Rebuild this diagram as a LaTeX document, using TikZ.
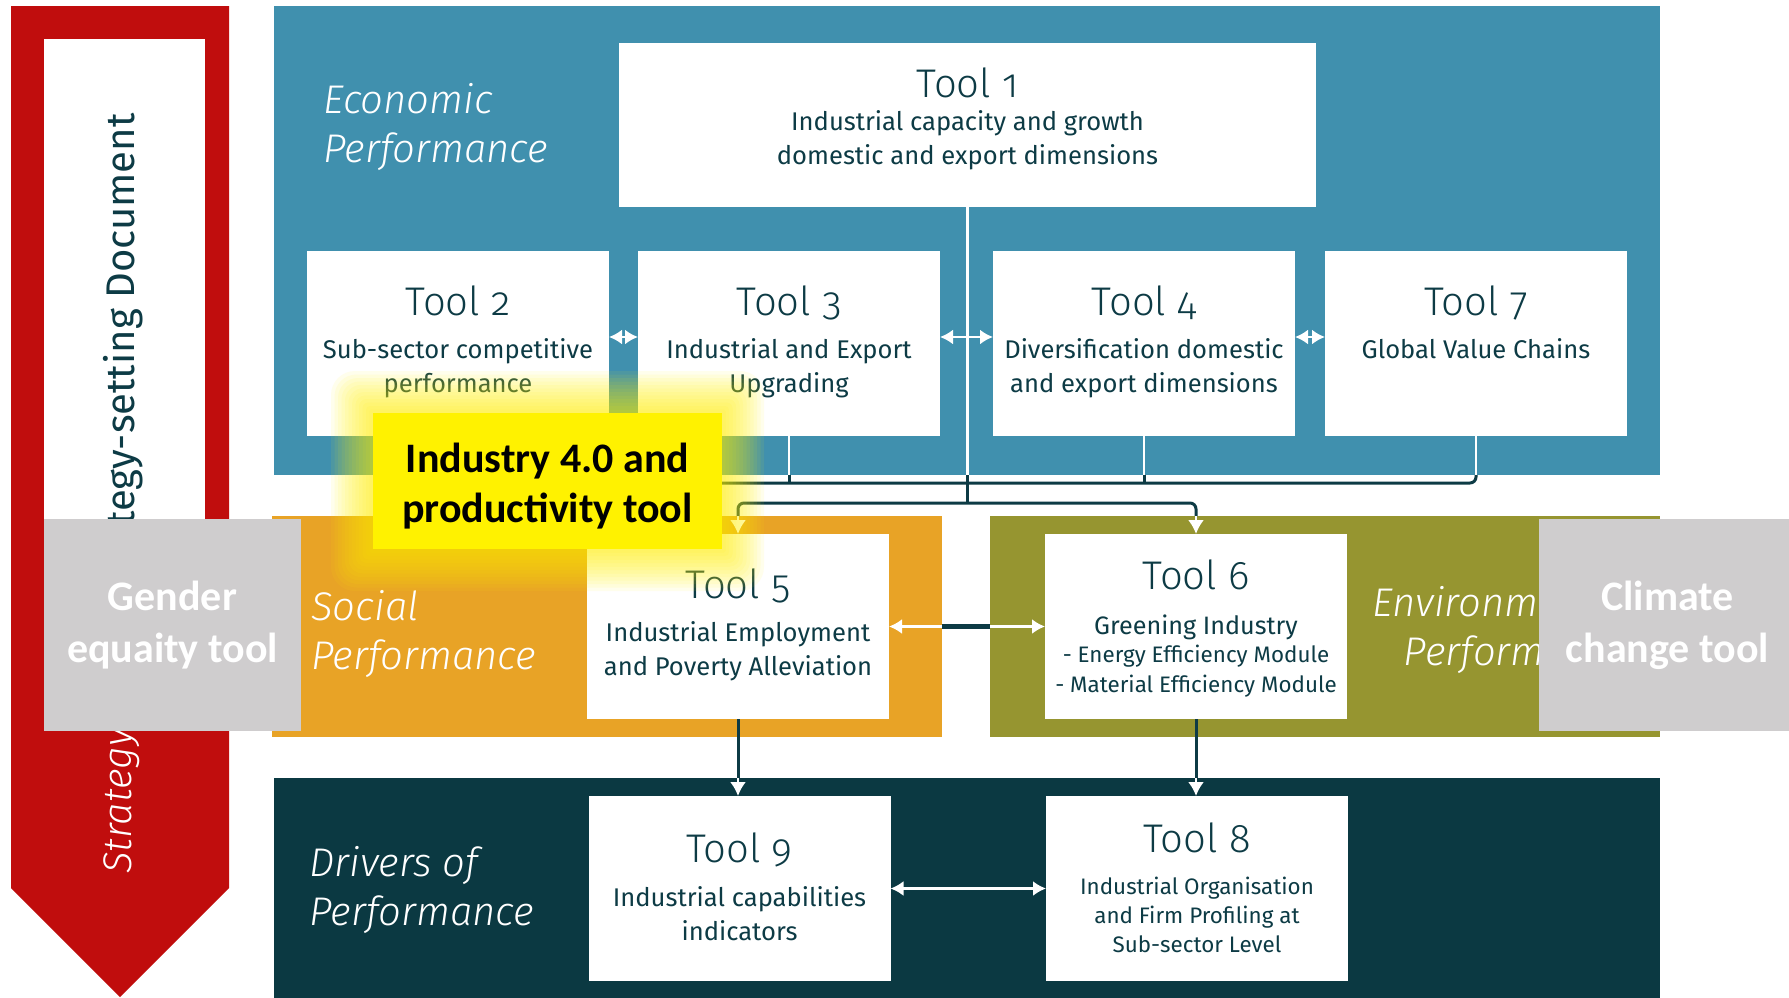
\documentclass[tikz,border=0pt]{standalone}
\usepackage{fontspec}
\setmainfont{Fira Sans}
\newfontfamily\lightfont{Fira Sans Light}[Numbers=OldStyle]
\newfontfamily\panelfont{Fira Sans Light Italic}
\newfontfamily\calfont{Carlito}
\usetikzlibrary{arrows.meta,positioning}

\definecolor{stratred}{HTML}{C00D0D}
\definecolor{econblue}{HTML}{4090AE}
\definecolor{socorange}{HTML}{E8A326}
\definecolor{envolive}{HTML}{969530}
\definecolor{drvteal}{HTML}{0B3942}
\definecolor{inktext}{HTML}{0D3B45}
\definecolor{toolgray}{HTML}{CFCDCE}

\newcommand{\ttl}{\lightfont\fontsize{20}{24}\selectfont}
\newcommand{\dsc}{\fontsize{12.8}{17}\selectfont}
\newcommand{\sml}{\fontsize{11.2}{14.5}\selectfont}

\tikzset{
  panel/.style={inner sep=0pt, outer sep=0pt},
  toolbox/.style={fill=white, inner sep=0pt, outer sep=0pt, minimum width=151pt, minimum height=92.5pt},
  tooltext/.style={anchor=north, align=center, inner sep=0pt, text=inktext, font=\dsc},
  plabel/.style={anchor=north west, align=left, inner sep=0pt, text=white, font=\panelfont\fontsize{20}{24.5}\selectfont},
  sidetool/.style={fill=toolgray, inner sep=0pt, align=center, text=white, font=\calfont\bfseries\fontsize{21}{26}\selectfont},
  wline/.style={white, line width=1.2pt},
  dline/.style={inktext, line width=1.5pt},
  wtip/.style={white, line width=1.2pt, -{Latex[length=7pt,width=8pt]}},
  wboth/.style={white, line width=1.2pt, {Latex[length=6.5pt,width=7.5pt]}-{Latex[length=6.5pt,width=7.5pt]}},
}

\begin{document}
\begin{tikzpicture}[x=0.5pt,y=-0.5pt]
\useasboundingbox (0,0) rectangle (1789,997);
\fill[white] (0,0) rectangle (1789,997);

% strategy arrow
\fill[stratred] (11,6) -- (229,6) -- (229,888) -- (120,997) -- (11,888) -- cycle;
\fill[white] (44,39) rectangle (205,668);
\node[rotate=90, anchor=east, inner sep=0pt, text=inktext, font=\fontsize{20}{24}\selectfont] (strat) at (123,113) {Strategy-setting Document};
\node[rotate=90, inner sep=0pt, text=white, font=\panelfont\fontsize{20}{24}\selectfont] (stratlow) at (122,801) {Strategy};

% panels
\node[panel, fill=econblue, minimum width=693pt, minimum height=234.5pt] (econ) at (967,240.5) {};
\node[panel, fill=socorange, minimum width=335pt, minimum height=110.5pt] (social) at (607,626.5) {};
\node[panel, fill=envolive, minimum width=335pt, minimum height=110.5pt] (envir) at (1325,626.5) {};
\node[panel, fill=drvteal, minimum width=693pt, minimum height=111pt] (drivers) at (967,889) {};

\node[plabel] (econlbl) at (323,83) {Economic\\Performance};
\node[plabel] (soclbl) at (311,590) {Social\\Performance};
\begin{scope}
  \clip (990,516) rectangle (1539,737);
  \node[plabel, align=right] (envlbl) at (1372,586) {Environmental\\Performance};
\end{scope}
\node[plabel] (drvlbl) at (309,846) {Drivers of\\Performance};

% tools
\node[toolbox, minimum width=348.5pt, minimum height=82pt] (t1) at (967.5,125) {};
\node[toolbox] (t2) at (458,343.5) {};
\node[toolbox] (t3) at (789,343.5) {};
\node[toolbox] (t4) at (1144,343.5) {};
\node[toolbox] (t7) at (1476,343.5) {};
\node[toolbox] (t5) at (738,626.5) {};
\node[toolbox] (t6) at (1196,626.5) {};
\node[toolbox] (t9) at (739.5,888.5) {};
\node[toolbox] (t8) at (1197,888.5) {};

\node[tooltext] (t1txt) at ([yshift=-12pt]t1.north) {{\ttl Tool 1}\\[-0.5pt]Industrial capacity and growth\\domestic and export dimensions};
\node[tooltext] (t2txt) at ([yshift=-17pt]t2.north) {{\ttl Tool 2}\\[4.5pt]Sub-sector competitive\\performance};
\node[tooltext] (t3txt) at ([yshift=-17pt]t3.north) {{\ttl Tool 3}\\[4.5pt]Industrial and Export\\Upgrading};
\node[tooltext] (t4txt) at ([yshift=-17pt]t4.north) {{\ttl Tool 4}\\[4.5pt]Diversification domestic\\and export dimensions};
\node[tooltext] (t7txt) at ([yshift=-17pt]t7.north) {{\ttl Tool 7}\\[4.5pt]Global Value Chains};
\node[tooltext] (t5txt) at ([yshift=-17pt]t5.north) {{\ttl Tool 5}\\[4.5pt]Industrial Employment\\and Poverty Alleviation};
\node[tooltext, font=\sml] (t6txt) at ([yshift=-12.8pt]t6.north) {{\ttl Tool 6}\\[8pt]{\fontsize{12.6}{17}\selectfont Greening Industry}\\[-0.5pt]- Energy Efficiency Module\\[0.5pt]- Material Efficiency Module};
\node[tooltext] (t9txt) at ([yshift=-18pt]t9.north) {{\ttl Tool 9}\\[5pt]Industrial capabilities\\indicators};
\node[tooltext, font=\sml] (t8txt) at ([yshift=-13.3pt]t8.north) {{\ttl Tool 8}\\[6.5pt]Industrial Organisation\\and Firm Profiling at\\Sub-sector Level};

% links inside the economic panel
\coordinate (bus) at (0,483);
\coordinate (bus2) at (0,503);
\draw[wboth] ([yshift=3.25pt]t2.east) -- ([yshift=3.25pt]t3.west);
\draw[wboth] ([yshift=3.25pt]t3.east) -- ([yshift=3.25pt]t4.west);
\draw[wboth] ([yshift=3.25pt]t4.east) -- ([yshift=3.25pt]t7.west);
\draw[wline] (t1.south) -- (t1.south |- econ.south);
\foreach \t in {t2,t3,t4,t7}
  \draw[wline] (\t.south) -- (\t.south |- econ.south);
\draw[dline, rounded corners=3pt] (t2.south |- econ.south) -- (t2.south |- bus) -- (t7.south |- bus) -- (t7.south |- econ.south);
\draw[dline] (t3.south |- econ.south) -- (t3.south |- bus);
\draw[dline] (t4.south |- econ.south) -- (t4.south |- bus);
\draw[dline] (t1.south |- econ.south) -- (t1.south |- bus2);

% links to social / environmental
\draw[dline, rounded corners=3pt] (t5.north |- social.north) -- (t5.north |- bus2) -- (t6.north |- bus2) -- (t6.north |- envir.north);
\draw[wtip] (t5.north |- social.north) -- (t5.north);
\draw[wtip] (t6.north |- envir.north) -- (t6.north);
\draw[wboth] (t5.east) -- (t6.west);
\draw[dline, line width=2.5pt] (social.east |- t5.east) -- (envir.west |- t5.east);

% links to drivers
\draw[dline] (t5.south) -- (t5.south |- drivers.north);
\draw[wtip] (t5.south |- drivers.north) -- (t5.south |- t9.north);
\draw[dline] (t6.south) -- (t6.south |- drivers.north);
\draw[wtip] (t6.south |- drivers.north) -- (t6.south |- t8.north);
\draw[wboth] (t9.east) -- (t8.west);

% industry 4.0 highlight
\foreach \g in {1,...,12}
  \fill[yellow, opacity=0.075, rounded corners=\g pt] ({373-3.5*\g},{413-3.5*\g}) rectangle ({722+3.5*\g},{549+3.5*\g});
\node[fill=yellow, inner sep=0pt, minimum width=174.5pt, minimum height=68pt] (ind) at (547.5,481) {};
\node[align=center, inner sep=0pt, font=\calfont\bfseries\fontsize{21}{25}\selectfont] (indtxt) at ([yshift=-2.3pt]ind.center) {Industry 4.0 and\\productivity tool};

% side tools
\node[sidetool, minimum width=128.5pt, minimum height=106pt] (gender) at (172.5,625) {Gender\\equaity tool};
\node[sidetool, minimum width=128.5pt, minimum height=106pt] (climate) at (1667.5,625) {Climate\\change tool};
\end{tikzpicture}
\end{document}
